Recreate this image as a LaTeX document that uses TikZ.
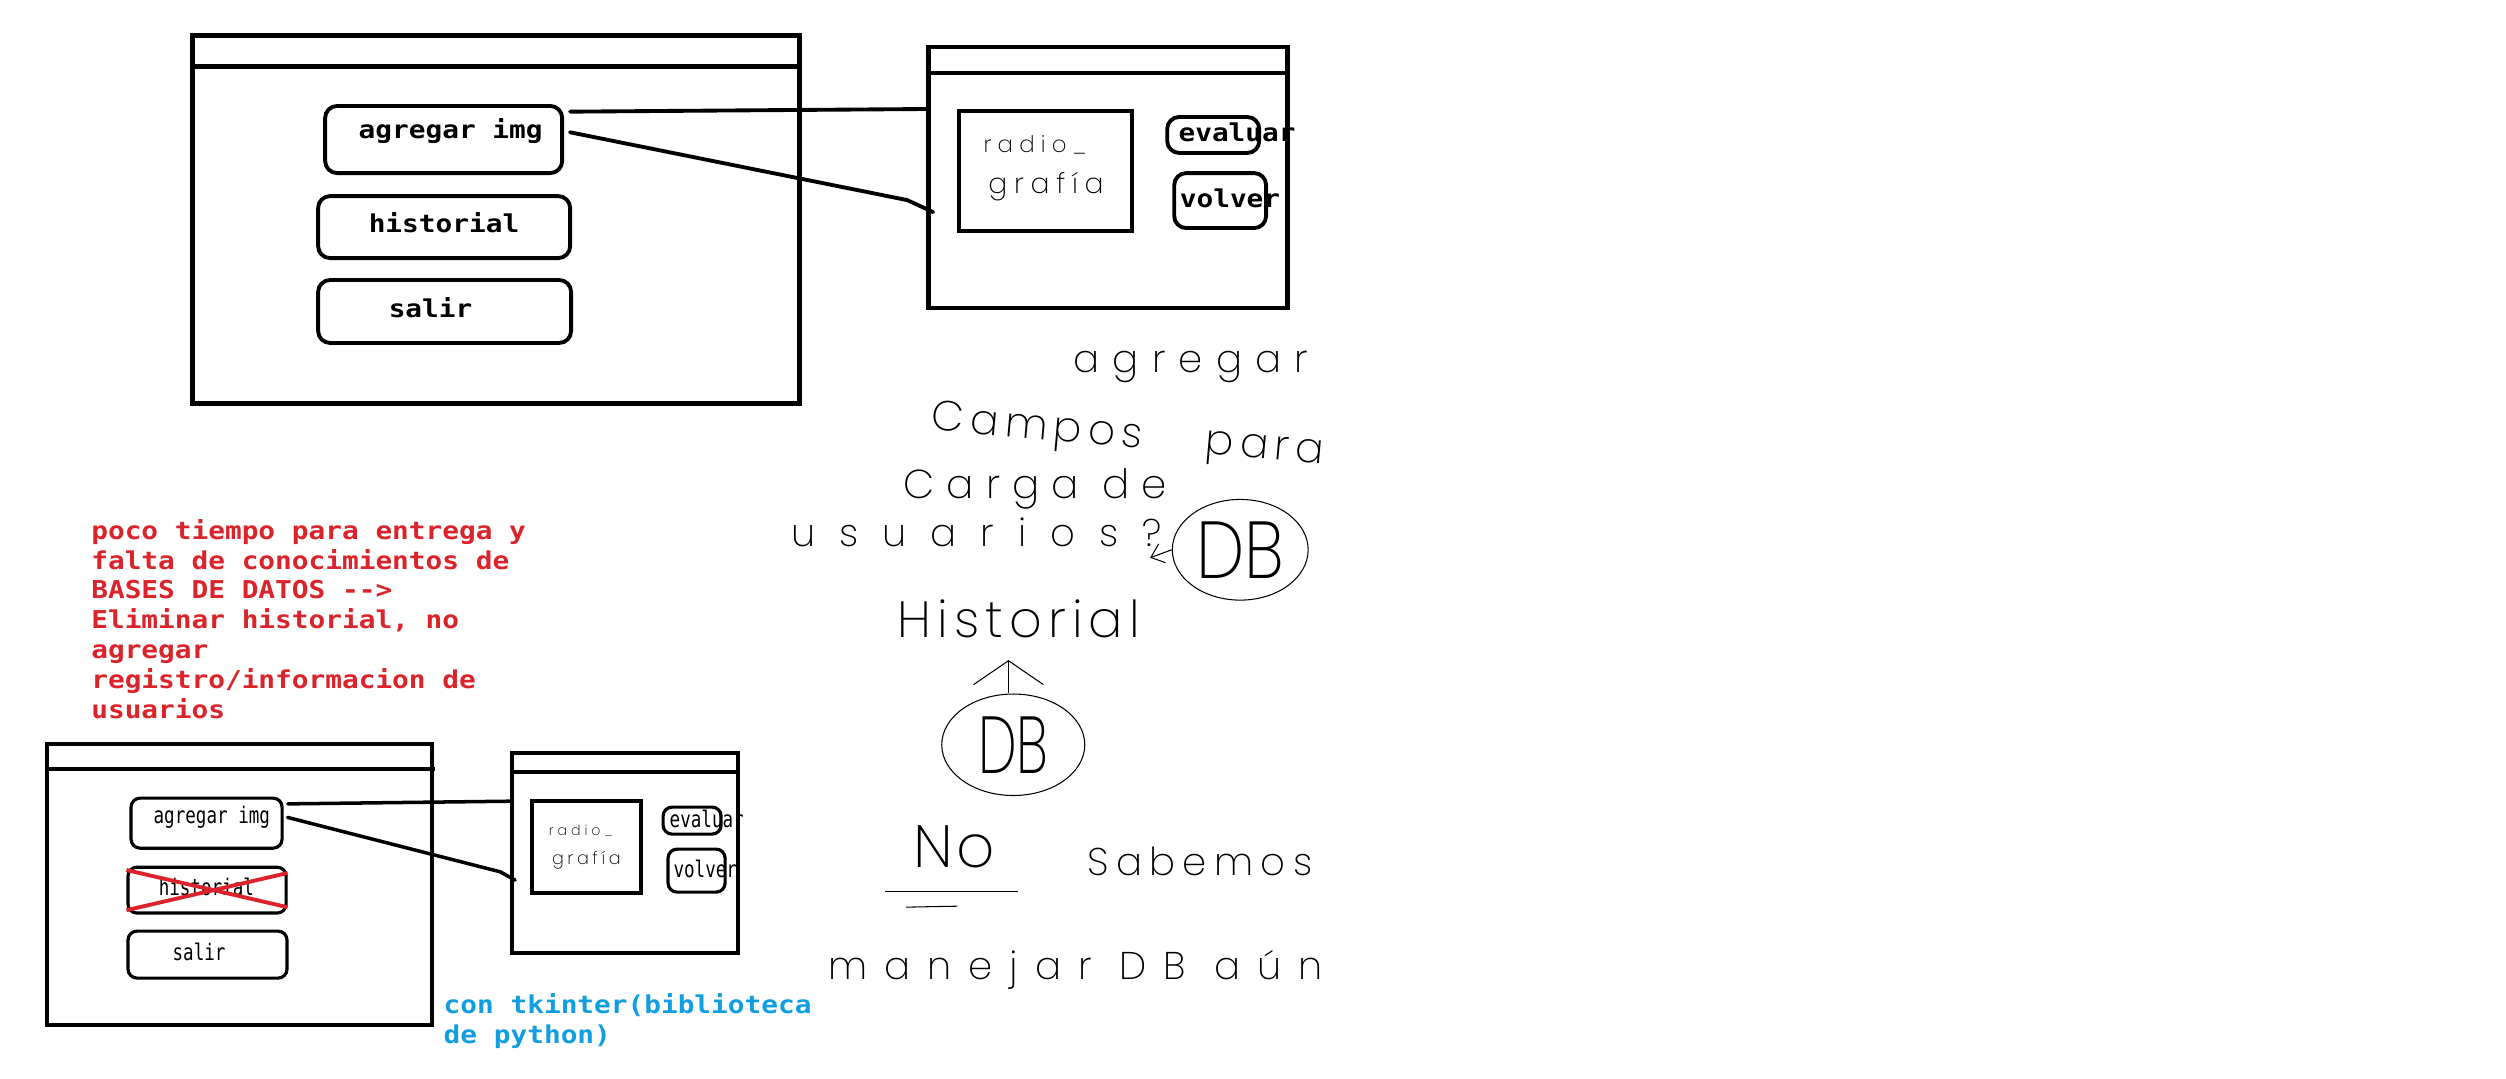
\documentclass[tikz,border=0pt]{standalone}
\usepackage{fontspec}
\usepackage{tikz}
\usetikzlibrary{arrows.meta,shapes.geometric}

\newfontfamily\pixfont{DejaVu Sans Mono}[FakeStretch=1.13]
\newfontfamily\pixsmall{DejaVu Sans Mono}[FakeStretch=0.77]
\IfFontExistsTF{Poppins ExtraLight}
  {\newfontfamily\handfont{Poppins ExtraLight}}
  {\newfontfamily\handfont{DejaVu Sans}}

\newcommand{\hw}[2]{\fontsize{#1}{#1}\handfont\addfontfeatures{LetterSpace=#2}}
\newcommand{\unitpx}{0.16mm}

\definecolor{notered}{RGB}{218,35,42}
\definecolor{noteblue}{RGB}{16,158,224}

\tikzset{
  win/.style={line width=1.4pt},
  winsm/.style={line width=1.15pt},
  bsize/.style 2 args={minimum width=#1*\unitpx, minimum height=#2*\unitpx},
  btn/.style={draw, line width=1.1pt, rounded corners=1.2mm, inner sep=0pt},
  btnsm/.style={draw, line width=0.9pt, rounded corners=0.9mm, inner sep=0pt},
  imgbox/.style={draw, line width=1.3pt, inner sep=0pt},
  imgboxsm/.style={draw, line width=1.1pt, inner sep=0pt},
  conn/.style={line width=1.1pt, line cap=round},
  connsm/.style={line width=1pt, line cap=round},
  lbl/.style={font=\pixfont\bfseries\fontsize{7}{8.5}\selectfont, anchor=base west, inner sep=0pt},
  lblsm/.style={font=\pixsmall\fontsize{6.5}{7}\selectfont, anchor=base west, inner sep=0pt},
  note/.style={font=\pixfont\bfseries\fontsize{7}{8.5}\selectfont, align=left, anchor=north west, inner sep=0pt},
  hand/.style 2 args={font={\hw{#1}{#2}}, anchor=base west, inner sep=0pt},
  handline/.style={line width=0.3pt},
  dbell/.style={draw, ellipse, line width=0.3pt, inner sep=0pt},
  xmark/.style={notered, line width=1.1pt}
}

\begin{document}
\begin{tikzpicture}[x=0.16mm, y=-0.16mm]
	\useasboundingbox (0,0) rectangle (1568,675);

	% Main window
	\coordinate (m1) at (120.2,22.5);
	\coordinate (m2) at (500,252.2);

	% Viewer window
	\coordinate (v1) at (580.7,29.4);
	\coordinate (v2) at (805.4,192.7);
	\coordinate (v1in) at (580.7,68.2);
	\coordinate (v1hk) at (567.6,125.2);
	\coordinate (v1end) at (583.9,132.7);

	\draw [win] (m1) rectangle (m2);
	\draw [win] (120.2,41.9) -- (502,41.9);
	\draw [win] (v1) rectangle (v2);
	\draw [win] (580.7,45.7) -- (806.5,45.7);

	\node [btn, bsize={148.3}{42}] (agr1) at (277.6,87.3) {};
	\node [btn, bsize={157.7}{38.8}] (his1) at (277.9,142.1) {};
	\node [btn, bsize={158.3}{39.4}] (sal1) at (278.2,194.9) {};
	\node [lbl] (agr1t) at (224,86.4) {agregar img};
	\node [lbl] (his1t) at (230.3,145.2) {historial};
	\node [lbl] (sal1t) at (242.8,198.4) {salir};

	\node [imgbox, bsize={108.3}{75.1}] (img1) at (654.25,107.05) {};
	\node [hand={6.5}{27}] (rad1) at (615,95.5) {radio\_};
	\node [hand={8}{24}] (gra1) at (618,120.8) {grafía};
	\node [btn, bsize={57.6}{22.5}] (ev1) at (759.1,84.45) {};
	\node [btn, bsize={57.5}{34.4}] (vo1) at (763.45,125.5) {};
	\node [lbl] (ev1t) at (737,88.8) {evaluar};
	\node [lbl] (vo1t) at (737.8,129.6) {volver};

	\draw [conn, shorten <=0.6mm] (agr1.13) -- (v1in);
	\draw [conn, shorten <=0.6mm] (agr1.4) -- (v1hk) -- (v1end);

	% Note
	\node [note, text=notered] (why) at (56.7,324.5) {poco tiempo para entrega y\\falta de conocimientos de\\BASES DE DATOS -{}->\\Eliminar historial, no\\agregar\\registro/informacion de\\usuarios};

	% Second version
	\coordinate (n1) at (29.4,465.6);
	\coordinate (n2) at (270.3,641.4);
	\coordinate (w1) at (320.4,471.2);
	\coordinate (w2) at (461.8,596.4);
	\coordinate (v2in) at (320.4,501.3);
	\coordinate (v2hk) at (313,545.5);
	\coordinate (v2end) at (322.3,550.7);

	\draw [winsm] (n1) rectangle (n2);
	\draw [winsm] (28,481.2) -- (272,481.2);
	\draw [winsm] (w1) rectangle (w2);
	\draw [winsm] (319,483.1) -- (462,483.1);

	\node [btnsm, bsize={94.5}{31.3}] (agr2) at (129.25,515.05) {};
	\node [btnsm, bsize={98.9}{28.7}] (his2) at (129.55,556.95) {};
	\node [btnsm, bsize={99.5}{29.4}] (sal2) at (129.85,597.3) {};
	\node [lblsm] (agr2t) at (95.7,515.5) {agregar img};
	\node [lblsm] (his2t) at (98.9,560.5) {historial};
	\node [lblsm] (sal2t) at (107.6,601) {salir};
	\draw [xmark] (his2.166) -- (his2.-12);
	\draw [xmark] (his2.194) -- (his2.12);

	\node [imgboxsm, bsize={68.2}{57.5}] (img2) at (367,530.05) {};
	\node [hand={4}{28}] (rad2) at (343,523) {radio\_};
	\node [hand={5}{20}] (gra2) at (345,541) {grafía};
	\node [btnsm, bsize={36.3}{16.9}] (ev2) at (433.05,513.45) {};
	\node [btnsm, bsize={35.7}{26.9}] (vo2) at (435.85,544.75) {};
	\node [lblsm] (ev2t) at (418.6,517.8) {evaluar};
	\node [lblsm] (vo2t) at (421,549) {volver};

	\draw [connsm, shorten <=0.4mm] (agr2.14) -- (v2in);
	\draw [connsm, shorten <=0.4mm] (agr2.5) -- (v2hk) -- (v2end);

	\node [note, text=noteblue] (tk) at (277.2,621.5) {con tkinter(biblioteca\\de python)};

	% Handwritten notes
	\node [hand={11}{34}] (hagr) at (671.5,232.8) {agregar};
	\node [hand={12}{15}, rotate=-5] (hcam) at (582,269) {Campos\hspace{1.5em}para};
	\node [hand={11.5}{30}] (hcar) at (565,312) {Carga de};
	\node [hand={11}{62}] (husu) at (495,342) {usuarios?};
	\node [dbell, bsize={85}{63}, font=\hw{23}{0}] (db1) at (776,344) {\scalebox{0.85}[1]{DB}};
	\coordinate (usutip) at (719.6,349);
	\draw [handline, -{Straight Barb[length=1.2mm, width=2mm]}] (db1.west) -- (usutip);

	\node [hand={14.5}{12}] (hhis) at (561,399) {Historial};
	\node [dbell, bsize={89.5}{63.5}, font=\hw{23}{0}] (db2) at (634,466) {\scalebox{0.68}[1]{DB}};
	\coordinate (histtip) at (631,413);
	\draw [handline, -{Straight Barb[length=2.4mm, width=7mm]}] (histtip |- db2.north) -- (histtip);

	\node [hand={17}{5}] (hno) at (571,543) {No};
	\draw [handline] (553.8,557.6) -- (637,557.6);
	\draw [handline] (567,567.6) -- (599,567);
	\node [hand={11}{19}] (hsab) at (680,548) {Sabemos};
	\node [hand={11}{44}] (hman) at (518,613) {manejar DB aún};

\end{tikzpicture}
\end{document}
